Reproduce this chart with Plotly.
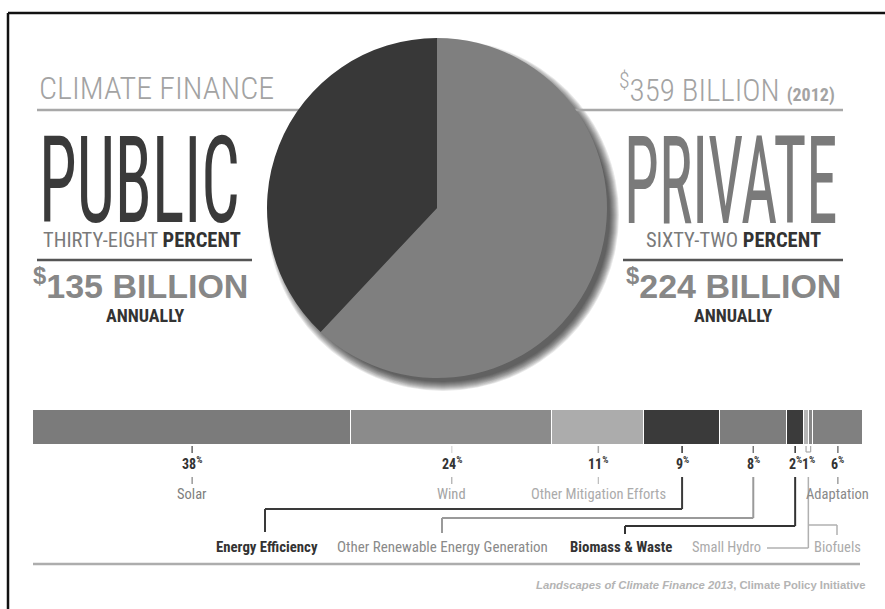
import json
import plotly.graph_objects as go

# ---------------- data ----------------
# drawn clockwise from 12 o'clock, so Public ends up on the left half
split_labels = ["Private", "Public"]
split_shares = [62, 38]
split_colors = ["#7f7f7f", "#383838"]

categories = ["Solar", "Wind", "Other Mitigation Efforts", "Energy Efficiency",
              "Other Renewable Energy Generation", "Biomass & Waste",
              "Small Hydro", "Biofuels", "Adaptation"]
shares = [38, 24, 11, 9, 8, 2, 0.6, 0.5, 6]
bar_colors = ["#7b7b7b", "#8b8b8b", "#acacac", "#3a3a3a", "#7d7d7d",
              "#3b3b3b", "#b6b6b6", "#888888", "#808080"]

W, H = 885, 609
COND = "Roboto Condensed, Liberation Sans Narrow, Arial Narrow, Liberation Sans, sans-serif"
BOLDF = "Liberation Sans, Arial, sans-serif"


def px(x):
    return x / W


def py(y):
    return 1 - y / H


fig = go.Figure()

# ---------------- pie ----------------
cx, cy, r = 437, 208, 170
fig.add_trace(go.Pie(
    labels=split_labels, values=split_shares, sort=False,
    direction="clockwise", rotation=0,
    marker=dict(colors=split_colors, line=dict(width=0)),
    textinfo="none", hoverinfo="label+percent", showlegend=False,
    domain=dict(x=[px(cx - r), px(cx + r)], y=[py(cy + r), py(cy - r)]),
))

shapes = []

# soft drop shadow behind the pie, offset to the lower right
for k in range(1, 11):
    rr = r - 4 + k
    sx, sy = cx + 6, cy + 7
    shapes.append(dict(type="circle", xref="paper", yref="paper", layer="below",
                       x0=px(sx - rr), x1=px(sx + rr), y0=py(sy + rr), y1=py(sy - rr),
                       fillcolor="rgba(0,0,0,0.09)", line=dict(width=0)))

# ---------------- stacked bar ----------------
total = sum(shares)
X0, X1 = 33, 863
BAR_TOP, BAR_BOT = 410, 445
for cat, val, col in zip(categories, shares, bar_colors):
    fig.add_trace(go.Bar(
        x=[val], y=[0], orientation="h", name=cat,
        marker=dict(color=col, line=dict(color="white", width=1)),
        showlegend=False, hovertemplate=cat + ": %{x}%<extra></extra>",
    ))


def data_x(pxx):
    return (pxx - X0) / (X1 - X0) * total


starts = []
acc = 0
for v in shares:
    starts.append(acc)
    acc += v
centers = [s + v / 2 for s, v in zip(starts, shares)]

annotations = []


def line(x0, y0, x1, y1, color, width=1.5, xref="paper", layer="above"):
    if xref == "paper":
        x0, x1 = px(x0), px(x1)
    shapes.append(dict(type="line", xref=xref, yref="paper", layer=layer,
                       x0=x0, x1=x1, y0=py(y0), y1=py(y1),
                       line=dict(color=color, width=width)))


def text(x, y, s, size, color, family=COND, xanchor="center", xref="paper", weight=None):
    font = dict(size=size, color=color, family=family)
    if weight:
        font["weight"] = weight
    annotations.append(dict(
        x=px(x) if xref == "paper" else x, y=py(y), xref=xref, yref="paper",
        text=s, showarrow=False, xanchor=xanchor, yanchor="middle", font=font))


# percent labels with ticks; Small Hydro + Biofuels share one label
PCT_Y, TICK1, TICK2 = 463, (446, 453), (477, 484)
groups = [
    ([0], "#666666", "#808080", "#7e7e7e", "Solar"),
    ([1], "#dddddd", "#aaaaaa", "#a3a3a3", "Wind"),
    ([2], "#aaaaaa", "#bbbbbb", "#ababab", "Other Mitigation Efforts"),
    ([3], "#333333", None, None, None),
    ([4], "#777777", None, None, None),
    ([5], "#333333", None, None, None),
    ([6, 7], "#aaaaaa", None, None, None),
    ([8], "#777777", "#888888", "#898989", "Adaptation"),
]
for idx, tcol, lcol, labcol, lab in groups:
    val = sum(shares[i] for i in idx)
    if len(idx) == 1:
        xc = centers[idx[0]]
        line(xc, TICK1[0], xc, TICK1[1], tcol, 1.5, xref="x")
    else:
        xa, xb = centers[idx[0]], centers[idx[-1]]
        xc = (xa + xb) / 2
        line(xa, TICK1[0], xa, 452, tcol, 1.2, xref="x")
        line(xb, TICK1[0], xb, 452, tcol, 1.2, xref="x")
        line(xa, 452, xb, 452, tcol, 1.2, xref="x")
    text(xc, PCT_Y, "<b>%d<sup>%%</sup></b>" % round(val), 14, "#333333", xref="x")
    if lab:
        line(xc, TICK2[0], xc, TICK2[1], lcol, 1.2, xref="x")
        text(xc, 494, lab, 14.5, labcol, xref="x")

# connectors down to the lower row of labels
BOT_Y = 547
# Energy Efficiency
ee = centers[3]
line(ee, 477, ee, 509, "#3a3a3a", 2, xref="x")
line(data_x(265), 509, ee, 509, "#3a3a3a", 2, xref="x")
line(265, 509, 265, 532, "#3a3a3a", 2)
text(267, BOT_Y, "<b>Energy Efficiency</b>", 14.8, "#333333")
# Other Renewable Energy Generation
orr = centers[4]
line(orr, 477, orr, 518, "#9a9a9a", 2, xref="x")
line(data_x(442), 518, orr, 518, "#9a9a9a", 2, xref="x")
line(442, 518, 442, 533, "#9a9a9a", 2)
text(442, BOT_Y, "Other Renewable Energy Generation", 15, "#8a8a8a")
# Biomass & Waste
bm = centers[5]
line(bm, 477, bm, 526, "#333333", 2, xref="x")
line(data_x(625), 526, bm, 526, "#333333", 2, xref="x")
line(625, 526, 625, 534, "#333333", 2)
text(621, BOT_Y, "<b>Biomass & Waste</b>", 14.8, "#333333")
# Small Hydro / Biofuels
sh = (centers[6] + centers[7]) / 2
line(sh, 477, sh, 548, "#b0b0b0", 1.5, xref="x")
line(data_x(767), 548, sh, 548, "#b0b0b0", 1.5, xref="x")
line(sh, 525, data_x(837), 525, "#b0b0b0", 1.5, xref="x")
line(837, 525, 837, 535, "#b0b0b0", 1.5)
text(726, BOT_Y, "Small Hydro", 14.5, "#ababab")
text(837, BOT_Y, "Biofuels", 14.5, "#ababab")

# bottom rule and source
line(33, 564, 860, 564, "#adadad", 2.5)
text(868, 585, "<b><i>Landscapes of Climate Finance 2013</i>, Climate Policy Initiative</b>",
     11.3, "#b4b4b4", family=BOLDF, xanchor="right")

# ---------------- headline blocks ----------------
line(37, 110, cx, 110, "#a8a8a8", 2.5, layer="below")
line(cx, 110, 843, 110, "#a8a8a8", 2.5, layer="below")
line(37, 260, 252, 260, "#555555", 2.5)
line(623, 260, 843, 260, "#555555", 2.5)

text(37, 88, "CLIMATE FINANCE", 32, "#a3a3a3", xanchor="left", weight=300)
text(617, 88, "<sup>$</sup>359 BILLION <span style='font-size:18px'><b>(2012)</b></span>",
     31, "#a3a3a3", xanchor="left", weight=300)
text(37, 181, "PUBLIC", 68, "#3a3a3a", xanchor="left")
text(622, 181, "PRIVATE", 63, "#7a7a7a", xanchor="left")
text(142, 240, "<span style='color:#7a7a7a'>THIRTY-EIGHT</span> <b>PERCENT</b>",
     20.5, "#333333")
text(733, 240, "<span style='color:#7a7a7a'>SIXTY-TWO</span> <b>PERCENT</b>",
     20.5, "#333333")
text(140, 283, "<b><sup>$</sup>135 BILLION</b>", 34, "#878787", family=BOLDF)
text(733, 283, "<b><sup>$</sup>224 BILLION</b>", 34, "#878787", family=BOLDF)
text(145, 315, "<b>ANNUALLY</b>", 18, "#333333")
text(733, 315, "<b>ANNUALLY</b>", 18, "#333333")

# page frame (left and top edges)
line(8, 13, 8, H, "#111111", 2.5)
line(8, 13, W, 13, "#111111", 2.5)

fig.update_layout(
    width=W, height=H, margin=dict(l=0, r=0, t=0, b=0),
    paper_bgcolor="white", plot_bgcolor="white",
    barmode="stack", bargap=0,
    xaxis=dict(domain=[px(X0), px(X1)], range=[0, total], visible=False, fixedrange=True),
    yaxis=dict(domain=[py(BAR_BOT), py(BAR_TOP)], range=[-0.5, 0.5], visible=False, fixedrange=True),
    shapes=shapes, annotations=annotations,
)

# tall condensed display words
stretch = {"PUBLIC": 1.78, "PRIVATE": 1.95}
post = """
var s = %s;
document.querySelectorAll('.annotation-text').forEach(function(t){
  var k = s[t.textContent];
  if (k) {
    t.style.transformBox = 'fill-box';
    t.style.transformOrigin = '50%% 50%%';
    t.style.transform = 'scaleY(' + k + ')';
  }
});
""" % json.dumps(stretch)

fig.write_html("out.html", post_script=post, config={"displayModeBar": False})
